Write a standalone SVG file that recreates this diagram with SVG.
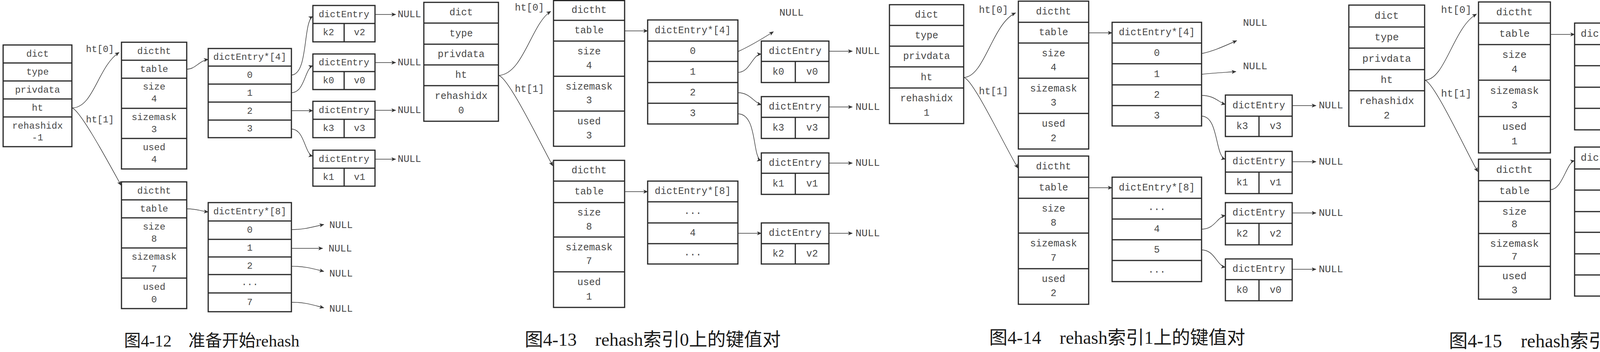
<svg xmlns="http://www.w3.org/2000/svg" width="7264" height="900" viewBox="0 0 7264 900">
<style>
.b{fill:#fff;stroke:#262626;stroke-width:3}
.l{fill:none;stroke:#262626;stroke-width:3}
.nd text{font-family:"Liberation Mono",monospace;text-anchor:middle;dominant-baseline:central;fill:#484848}
.cn path{fill:none;stroke:#333;stroke-width:1.4;marker-end:url(#a)}
.lb{font-family:"Liberation Mono",monospace;dominant-baseline:central;fill:#484848}
.nu{font-family:"Liberation Mono",monospace;dominant-baseline:central;fill:#484848}
.cap{font-family:"Liberation Serif","Noto Sans CJK SC",serif;text-anchor:middle;dominant-baseline:central;fill:#1a1a1a}
</style>
<defs>
<marker id="a" viewBox="0 0 12 10" markerWidth="12" markerHeight="10" refX="11" refY="5" orient="auto" markerUnits="userSpaceOnUse"><path d="M0,0L12,5L0,10L3,5Z" fill="#333"/></marker>
</defs>
<rect width="7264" height="900" fill="#fff"/>

<!-- FIGURE 4-12 -->
<g id="fig1" font-size="24">
<g id="f1-dict" class="nd"><rect class="b" x="8" y="115" width="176" height="260"/><path class="l" d="M8,161H184M8,207H184M8,253H184M8,299H184"/>
<text x="96" y="138">dict</text><text x="96" y="184">type</text><text x="96" y="230">privdata</text><text x="96" y="276">ht</text><text x="96" y="322">rehashidx</text><text x="96" y="352">-1</text></g>
<g id="f1-ht0" class="nd"><rect class="b" x="311" y="108" width="167" height="324"/><path class="l" d="M311,154H478M311,200H478M311,277H478M311,354H478"/>
<text x="394.5" y="131">dictht</text><text x="394.5" y="177">table</text><text x="394.5" y="222">size</text><text x="394.5" y="253">4</text><text x="394.5" y="300">sizemask</text><text x="394.5" y="331">3</text><text x="394.5" y="377">used</text><text x="394.5" y="408">4</text></g>
<g id="f1-ht1" class="nd"><rect class="b" x="311" y="465" width="167" height="324"/><path class="l" d="M311,511H478M311,557H478M311,634H478M311,711H478"/>
<text x="394.5" y="488">dictht</text><text x="394.5" y="534">table</text><text x="394.5" y="580">size</text><text x="394.5" y="611">8</text><text x="394.5" y="657">sizemask</text><text x="394.5" y="688">7</text><text x="394.5" y="734">used</text><text x="394.5" y="766">0</text></g>
<g id="f1-tab0" class="nd"><rect class="b" x="533" y="124" width="213" height="228"/><path class="l" d="M533,169H746M533,215H746M533,261H746M533,307H746"/>
<text x="639.5" y="146.5">dictEntry*[4]</text><text x="639.5" y="192">0</text><text x="639.5" y="238">1</text><text x="639.5" y="284">2</text><text x="639.5" y="329.5">3</text></g>
<g id="f1-tab1" class="nd"><rect class="b" x="533" y="518" width="213" height="279"/><path class="l" d="M533,565H746M533,612H746M533,657H746M533,702H746M533,749H746"/>
<text x="639.5" y="541.5">dictEntry*[8]</text><text x="639.5" y="588.5">0</text><text x="639.5" y="634.5">1</text><text x="639.5" y="680">2</text><text x="639.5" y="722">...</text><text x="639.5" y="773">7</text></g>
<g id="f1-e-k2" class="nd"><rect class="b" x="801" y="14" width="159" height="93"/><path class="l" d="M801,60H960M881,60V107"/><text x="880.5" y="37">dictEntry</text><text x="841" y="83.5">k2</text><text x="920.5" y="83.5">v2</text></g>
<g id="f1-e-k0" class="nd"><rect class="b" x="801" y="138" width="159" height="91"/><path class="l" d="M801,183H960M881,183V229"/><text x="880.5" y="160.5">dictEntry</text><text x="841" y="206">k0</text><text x="920.5" y="206">v0</text></g>
<g id="f1-e-k3" class="nd"><rect class="b" x="801" y="259" width="159" height="93"/><path class="l" d="M801,305H960M881,305V352"/><text x="880.5" y="282">dictEntry</text><text x="841" y="328.5">k3</text><text x="920.5" y="328.5">v3</text></g>
<g id="f1-e-k1" class="nd"><rect class="b" x="801" y="384" width="159" height="92"/><path class="l" d="M801,430H960M881,430V476"/><text x="880.5" y="407">dictEntry</text><text x="841" y="453">k1</text><text x="920.5" y="453">v1</text></g>
<g id="f1-connectors" class="cn">
<path d="M184,276C240,276 250,170 305,134"/><path d="M184,276C205,280 280,420 310,474"/>
<path d="M478,177C500,177 510,155 533,152"/><path d="M478,534C500,533 515,540 533,542"/>
<path d="M746,192C790,190 775,55 801,42"/><path d="M746,237C780,237 780,175 801,168"/><path d="M746,283L801,283"/><path d="M746,330C780,330 780,395 801,399"/>
<path d="M960,37L1013,37"/><path d="M960,160L1013,160"/><path d="M960,282L1013,282"/><path d="M960,407L1013,407"/>
<path d="M746,587C780,587 800,580 829,574"/><path d="M746,635L826,635"/><path d="M746,681C780,680 805,688 829,694"/><path d="M746,773C780,772 805,781 829,787"/>
<text class="lb" x="220" y="126">ht[0]</text><text class="lb" x="220" y="306">ht[1]</text>
<g class="nu" font-size="25"><text x="1018" y="37">NULL</text><text x="1018" y="160">NULL</text><text x="1018" y="282">NULL</text><text x="1018" y="407">NULL</text><text x="843" y="576">NULL</text><text x="841" y="636">NULL</text><text x="843" y="700">NULL</text><text x="843" y="790">NULL</text></g>
</g>
<text class="cap" x="542" y="871" font-size="43">图4-12　准备开始rehash</text>
</g>

<!-- FIGURE 4-13 -->
<g id="fig2" font-size="25">
<g id="f2-dict" class="nd"><rect class="b" x="1085" y="6" width="191" height="304"/><path class="l" d="M1085,59H1276M1085,113H1276M1085,166H1276M1085,219H1276"/>
<text x="1180.5" y="32.5">dict</text><text x="1180.5" y="86">type</text><text x="1180.5" y="139.5">privdata</text><text x="1180.5" y="192.5">ht</text><text x="1180.5" y="246">rehashidx</text><text x="1180.5" y="283">0</text></g>
<g id="f2-ht0" class="nd"><rect class="b" x="1417" y="1.5" width="182" height="372.5"/><path class="l" d="M1417,52H1599M1417,105H1599M1417,195H1599M1417,284H1599"/>
<text x="1508" y="26.5">dictht</text><text x="1508" y="78.5">table</text><text x="1508" y="132">size</text><text x="1508" y="168">4</text><text x="1508" y="222">sizemask</text><text x="1508" y="257">3</text><text x="1508" y="311">used</text><text x="1508" y="347">3</text></g>
<g id="f2-ht1" class="nd"><rect class="b" x="1417" y="410" width="182" height="376"/><path class="l" d="M1417,463H1599M1417,518H1599M1417,606H1599M1417,695H1599"/>
<text x="1508" y="436.5">dictht</text><text x="1508" y="490.5">table</text><text x="1508" y="544">size</text><text x="1508" y="580">8</text><text x="1508" y="633">sizemask</text><text x="1508" y="668">7</text><text x="1508" y="722">used</text><text x="1508" y="759">1</text></g>
<g id="f2-tab0" class="nd"><rect class="b" x="1658" y="51" width="231" height="266"/><path class="l" d="M1658,105H1889M1658,157H1889M1658,211H1889M1658,264H1889"/>
<text x="1773.5" y="78">dictEntry*[4]</text><text x="1773.5" y="131">0</text><text x="1773.5" y="184">1</text><text x="1773.5" y="237.5">2</text><text x="1773.5" y="290.5">3</text></g>
<g id="f2-tab1" class="nd"><rect class="b" x="1658" y="463" width="231" height="212"/><path class="l" d="M1658,516H1889M1658,570H1889M1658,623H1889"/>
<text x="1773.5" y="489.5">dictEntry*[8]</text><text x="1773.5" y="540">...</text><text x="1773.5" y="596.5">4</text><text x="1773.5" y="646">...</text></g>
<g id="f2-e-k0" class="nd"><rect class="b" x="1949" y="105" width="173" height="106"/><path class="l" d="M1949,157H2122M2036,157V211"/><text x="2035.5" y="131">dictEntry</text><text x="1992.5" y="184">k0</text><text x="2079" y="184">v0</text></g>
<g id="f2-e-k3" class="nd"><rect class="b" x="1949" y="247" width="173" height="107"/><path class="l" d="M1949,300H2122M2036,300V354"/><text x="2035.5" y="273.5">dictEntry</text><text x="1992.5" y="327">k3</text><text x="2079" y="327">v3</text></g>
<g id="f2-e-k1" class="nd"><rect class="b" x="1949" y="391" width="173" height="106"/><path class="l" d="M1949,443H2122M2036,443V497"/><text x="2035.5" y="417">dictEntry</text><text x="1992.5" y="470">k1</text><text x="2079" y="470">v1</text></g>
<g id="f2-e-k2" class="nd"><rect class="b" x="1949" y="570" width="173" height="105"/><path class="l" d="M1949,623H2122M2036,623V675"/><text x="2035.5" y="596.5">dictEntry</text><text x="1992.5" y="649">k2</text><text x="2079" y="649">v2</text></g>
<g id="f2-connectors" class="cn">
<path d="M1276,193C1340,190 1360,60 1410,29"/><path d="M1276,193C1300,195 1380,360 1415,424"/>
<path d="M1599,79L1658,79"/><path d="M1599,490L1658,490"/>
<path d="M1889,132C1920,118 1950,100 1980,81"/><path d="M1889,185C1920,185 1925,140 1949,138"/><path d="M1889,237C1920,237 1930,262 1949,268"/><path d="M1889,291C1940,291 1925,405 1949,410"/><path d="M1889,596.5L1949,596.5"/>
<path d="M2122,131L2182,131"/><path d="M2122,273.5L2182,273.5"/><path d="M2122,417L2182,417"/><path d="M2122,596.5L2182,596.5"/>
<text class="lb" x="1318" y="20">ht[0]</text><text class="lb" x="1318" y="228">ht[1]</text>
<g class="nu" font-size="26"><text x="1995" y="33">NULL</text><text x="2190" y="131">NULL</text><text x="2190" y="273.5">NULL</text><text x="2190" y="417">NULL</text><text x="2190" y="596.5">NULL</text></g>
</g>
<text class="cap" x="1671" y="868" font-size="47">图4-13　rehash索引0上的键值对</text>
</g>

<!-- FIGURE 4-14 -->
<g id="fig3" font-size="25">
<g id="f3-dict" class="nd"><rect class="b" x="2277" y="12" width="190" height="304"/><path class="l" d="M2277,65H2467M2277,118H2467M2277,171H2467M2277,225H2467"/>
<text x="2372" y="38.5">dict</text><text x="2372" y="91.5">type</text><text x="2372" y="144.5">privdata</text><text x="2372" y="198">ht</text><text x="2372" y="252">rehashidx</text><text x="2372" y="289">1</text></g>
<g id="f3-ht0" class="nd"><rect class="b" x="2607" y="3" width="180" height="378"/><path class="l" d="M2607,57H2787M2607,110H2787M2607,200H2787M2607,290H2787"/>
<text x="2697" y="30">dictht</text><text x="2697" y="83.5">table</text><text x="2697" y="137">size</text><text x="2697" y="173">4</text><text x="2697" y="227">sizemask</text><text x="2697" y="263">3</text><text x="2697" y="317">used</text><text x="2697" y="354">2</text></g>
<g id="f3-ht1" class="nd"><rect class="b" x="2607" y="399" width="180" height="379"/><path class="l" d="M2607,453H2787M2607,507H2787M2607,596H2787M2607,687H2787"/>
<text x="2697" y="426">dictht</text><text x="2697" y="480">table</text><text x="2697" y="534">size</text><text x="2697" y="570">8</text><text x="2697" y="623">sizemask</text><text x="2697" y="660">7</text><text x="2697" y="714">used</text><text x="2697" y="750">2</text></g>
<g id="f3-tab0" class="nd"><rect class="b" x="2847" y="57" width="229" height="265"/><path class="l" d="M2847,110H3076M2847,163H3076M2847,217H3076M2847,270H3076"/>
<text x="2961.5" y="83.5">dictEntry*[4]</text><text x="2961.5" y="136.5">0</text><text x="2961.5" y="190">1</text><text x="2961.5" y="243.5">2</text><text x="2961.5" y="296">3</text></g>
<g id="f3-tab1" class="nd"><rect class="b" x="2847" y="453" width="229" height="267"/><path class="l" d="M2847,507H3076M2847,560H3076M2847,613H3076M2847,666H3076"/>
<text x="2961.5" y="480">dictEntry*[8]</text><text x="2961.5" y="530">...</text><text x="2961.5" y="586.5">4</text><text x="2961.5" y="639.5">5</text><text x="2961.5" y="690">...</text></g>
<g id="f3-e-k3" class="nd"><rect class="b" x="3137" y="243" width="171" height="106"/><path class="l" d="M3137,297H3308M3223,297V349"/><text x="3222.5" y="270">dictEntry</text><text x="3180" y="323">k3</text><text x="3265.5" y="323">v3</text></g>
<g id="f3-e-k1" class="nd"><rect class="b" x="3137" y="387" width="171" height="108"/><path class="l" d="M3137,440H3308M3223,440V495"/><text x="3222.5" y="413.5">dictEntry</text><text x="3180" y="467.5">k1</text><text x="3265.5" y="467.5">v1</text></g>
<g id="f3-e-k2" class="nd"><rect class="b" x="3137" y="518" width="171" height="108"/><path class="l" d="M3137,571H3308M3223,571V626"/><text x="3222.5" y="544.5">dictEntry</text><text x="3180" y="598.5">k2</text><text x="3265.5" y="598.5">v2</text></g>
<g id="f3-e-k0" class="nd"><rect class="b" x="3137" y="662" width="171" height="107"/><path class="l" d="M3137,715H3308M3223,715V769"/><text x="3222.5" y="688.5">dictEntry</text><text x="3180" y="742">k0</text><text x="3265.5" y="742">v0</text></g>
<g id="f3-connectors" class="cn">
<path d="M2467,198C2520,198 2540,60 2600,33"/><path d="M2467,198C2490,200 2570,370 2606,430"/>
<path d="M2787,84L2847,84"/><path d="M2787,480L2847,480"/>
<path d="M3076,137C3110,130 3140,115 3166,104"/><path d="M3076,190C3110,186 3140,185 3164,183"/>
<path d="M3076,244C3110,244 3120,262 3137,267"/><path d="M3076,297C3120,297 3110,400 3137,407"/><path d="M3076,586C3110,586 3115,555 3137,551"/><path d="M3076,639C3110,639 3115,680 3137,683"/>
<path d="M3308,270L3369,270"/><path d="M3308,413.5L3369,413.5"/><path d="M3308,544.5L3369,544.5"/><path d="M3308,688.5L3369,688.5"/>
<text class="lb" x="2506" y="26">ht[0]</text><text class="lb" x="2506" y="234">ht[1]</text>
<g class="nu" font-size="26"><text x="3182" y="59">NULL</text><text x="3182" y="170">NULL</text><text x="3376" y="270">NULL</text><text x="3376" y="413.5">NULL</text><text x="3376" y="544.5">NULL</text><text x="3376" y="688.5">NULL</text></g>
</g>
<text class="cap" x="2860" y="863" font-size="47">图4-14　rehash索引1上的键值对</text>
</g>

<!-- FIGURE 4-15 -->
<g id="fig4" font-size="26">
<g id="f4-dict" class="nd"><rect class="b" x="3453" y="13" width="194" height="310"/><path class="l" d="M3453,69H3647M3453,123H3647M3453,178H3647M3453,232H3647"/>
<text x="3550" y="41">dict</text><text x="3550" y="96">type</text><text x="3550" y="150.5">privdata</text><text x="3550" y="205">ht</text><text x="3550" y="259">rehashidx</text><text x="3550" y="296">2</text></g>
<g id="f4-ht0" class="nd"><rect class="b" x="3785" y="5" width="184" height="386"/><path class="l" d="M3785,59H3969M3785,114H3969M3785,205H3969M3785,298H3969"/>
<text x="3877" y="32">dictht</text><text x="3877" y="86.5">table</text><text x="3877" y="141">size</text><text x="3877" y="178">4</text><text x="3877" y="233">sizemask</text><text x="3877" y="270">3</text><text x="3877" y="325">used</text><text x="3877" y="362">1</text></g>
<g id="f4-ht1" class="nd"><rect class="b" x="3785" y="407" width="184" height="358"/><path class="l" d="M3785,462H3969M3785,515H3969M3785,597H3969M3785,681H3969"/>
<text x="3877" y="434.5">dictht</text><text x="3877" y="488.5">table</text><text x="3877" y="542">size</text><text x="3877" y="574">8</text><text x="3877" y="624">sizemask</text><text x="3877" y="657">7</text><text x="3877" y="707">used</text><text x="3877" y="743">3</text></g>
<g id="f4-tab0" class="nd"><rect class="b" x="4031" y="59" width="234" height="273"/><path class="l" d="M4031,114H4265M4031,168H4265M4031,223H4265M4031,277H4265"/>
<text x="4148" y="86.5">dictEntry*[4]</text><text x="4148" y="141">0</text><text x="4148" y="195.5">1</text><text x="4148" y="250">2</text><text x="4148" y="304.5">3</text></g>
<g id="f4-tab1" class="nd"><rect class="b" x="4031" y="376" width="234" height="381"/><path class="l" d="M4031,432H4265M4031,486H4265M4031,541H4265M4031,594H4265M4031,649H4265M4031,703H4265"/>
<text x="4148" y="404">dictEntry*[8]</text><text x="4148" y="456">...</text><text x="4148" y="513.5">1</text><text x="4148" y="564">...</text><text x="4148" y="621.5">4</text><text x="4148" y="676">5</text><text x="4148" y="727">...</text></g>
<g id="f4-e-k1" class="nd"><rect class="b" x="4328" y="298" width="176" height="109"/><path class="l" d="M4328,353H4504M4416,353V407"/><text x="4416" y="325.5">dictEntry</text><text x="4372" y="380">k1</text><text x="4460" y="380">v1</text></g>
<g id="f4-e-k3" class="nd"><rect class="b" x="4328" y="423" width="176" height="108"/><path class="l" d="M4328,477H4504M4416,477V531"/><text x="4416" y="450">dictEntry</text><text x="4372" y="504">k3</text><text x="4460" y="504">v3</text></g>
<g id="f4-e-k2" class="nd"><rect class="b" x="4328" y="547" width="176" height="110"/><path class="l" d="M4328,603H4504M4416,603V657"/><text x="4416" y="575">dictEntry</text><text x="4372" y="630">k2</text><text x="4460" y="630">v2</text></g>
<g id="f4-e-k0" class="nd"><rect class="b" x="4328" y="676" width="176" height="109"/><path class="l" d="M4328,732H4504M4416,732V785"/><text x="4416" y="704">dictEntry</text><text x="4372" y="758.5">k0</text><text x="4460" y="758.5">v0</text></g>
<g id="f4-connectors" class="cn">
<path d="M3647,205C3700,205 3720,70 3780,36"/><path d="M3647,205C3670,207 3750,380 3783,439"/>
<path d="M3969,88L4031,88"/><path d="M3969,485C4000,485 4010,415 4031,411"/>
<path d="M4265,141C4300,135 4330,120 4360,104"/><path d="M4265,195C4300,192 4330,190 4355,188"/><path d="M4265,250C4300,250 4330,255 4355,259"/>
<path d="M4265,300C4300,300 4310,320 4328,326"/><path d="M4265,506C4300,506 4305,455 4328,451"/><path d="M4265,628C4300,628 4305,580 4328,575"/><path d="M4265,684C4300,684 4310,705 4328,711"/>
<path d="M4504,325.5L4564,325.5"/><path d="M4504,450L4564,450"/><path d="M4504,575L4564,575"/><path d="M4504,704L4564,704"/>
<text class="lb" x="3689" y="26">ht[0]</text><text class="lb" x="3689" y="240">ht[1]</text>
<g class="nu" font-size="26"><text x="4375" y="108">NULL</text><text x="4375" y="189">NULL</text><text x="4375" y="264">NULL</text><text x="4571" y="325.5">NULL</text><text x="4571" y="450">NULL</text><text x="4571" y="575">NULL</text><text x="4571" y="704">NULL</text></g>
</g>
<text class="cap" x="4044" y="871" font-size="48">图4-15　rehash索引2上的键值对</text>
</g>

<!-- FIGURE 4-16 -->
<g id="fig5" font-size="24">
<g id="f5-dict" class="nd"><rect class="b" x="4648" y="13" width="185" height="289"/><path class="l" d="M4648,63H4833M4648,114H4833M4648,164H4833M4648,215H4833"/>
<text x="4740.5" y="38">dict</text><text x="4740.5" y="88.5">type</text><text x="4740.5" y="139">privdata</text><text x="4740.5" y="189.5">ht</text><text x="4740.5" y="241">rehashidx</text><text x="4740.5" y="276">3</text></g>
<g id="f5-ht0" class="nd"><rect class="b" x="4962" y="5" width="176" height="360"/><path class="l" d="M4962,56H5138M4962,107H5138M4962,193H5138M4962,279H5138"/>
<text x="5050" y="30.5">dictht</text><text x="5050" y="81.5">table</text><text x="5050" y="132">size</text><text x="5050" y="167">4</text><text x="5050" y="218">sizemask</text><text x="5050" y="253">3</text><text x="5050" y="304">used</text><text x="5050" y="339">0</text></g>
<g id="f5-ht1" class="nd"><rect class="b" x="4962" y="374" width="176" height="361"/><path class="l" d="M4962,425H5138M4962,476H5138M4962,561H5138M4962,647H5138"/>
<text x="5050" y="399.5">dictht</text><text x="5050" y="450.5">table</text><text x="5050" y="502">size</text><text x="5050" y="536">8</text><text x="5050" y="587">sizemask</text><text x="5050" y="622">7</text><text x="5050" y="673">used</text><text x="5050" y="708">4</text></g>
<g id="f5-tab0" class="nd"><rect class="b" x="5195" y="55" width="225" height="255"/><path class="l" d="M5195,107H5420M5195,157H5420M5195,208H5420M5195,259H5420"/>
<text x="5307.5" y="81">dictEntry*[4]</text><text x="5307.5" y="132">0</text><text x="5307.5" y="182.5">1</text><text x="5307.5" y="233.5">2</text><text x="5307.5" y="284.5">3</text></g>
<g id="f5-tab1" class="nd"><rect class="b" x="5195" y="320" width="225" height="406"/><path class="l" d="M5195,372H5420M5195,422H5420M5195,473H5420M5195,523H5420M5195,574H5420M5195,624H5420M5195,675H5420"/>
<text x="5307.5" y="346">dictEntry*[8]</text><text x="5307.5" y="394">...</text><text x="5307.5" y="447.5">1</text><text x="5307.5" y="495">...</text><text x="5307.5" y="548.5">4</text><text x="5307.5" y="599">5</text><text x="5307.5" y="646">...</text><text x="5307.5" y="700.5">7</text></g>
<g id="f5-e-k3" class="nd"><rect class="b" x="5478" y="345" width="168" height="102"/><path class="l" d="M5478,396H5646M5562,396V447"/><text x="5562" y="370.5">dictEntry</text><text x="5520" y="421.5">k3</text><text x="5604" y="421.5">v3</text></g>
<g id="f5-e-k2" class="nd"><rect class="b" x="5478" y="457" width="168" height="102"/><path class="l" d="M5478,508H5646M5562,508V559"/><text x="5562" y="482.5">dictEntry</text><text x="5520" y="533.5">k2</text><text x="5604" y="533.5">v2</text></g>
<g id="f5-e-k0" class="nd"><rect class="b" x="5478" y="568" width="168" height="103"/><path class="l" d="M5478,620H5646M5562,620V671"/><text x="5562" y="594">dictEntry</text><text x="5520" y="645.5">k0</text><text x="5604" y="645.5">v0</text></g>
<g id="f5-e-k1" class="nd"><rect class="b" x="5478" y="681" width="168" height="103"/><path class="l" d="M5478,733H5646M5562,733V784"/><text x="5562" y="707">dictEntry</text><text x="5520" y="758.5">k1</text><text x="5604" y="758.5">v1</text></g>
<g id="f5-connectors" class="cn">
<path d="M4833,190C4890,190 4900,60 4960,35"/><path d="M4833,190C4855,192 4930,340 4960,403"/>
<path d="M5138,81L5195,81"/><path d="M5138,456C5170,456 5175,350 5195,346"/>
<path d="M5420,132C5450,128 5480,110 5509,97"/><path d="M5420,183C5450,181 5480,178 5506,176"/><path d="M5420,234C5450,234 5480,238 5506,242"/><path d="M5420,284C5460,284 5490,305 5509,318"/>
<path d="M5420,444C5455,444 5455,375 5478,369"/><path d="M5420,545C5455,545 5455,490 5478,485"/><path d="M5420,597C5445,597 5460,591 5478,591"/><path d="M5420,705C5445,705 5460,701 5478,701"/>
<path d="M5646,370.5L5703,370.5"/><path d="M5646,482.5L5703,482.5"/><path d="M5646,594L5703,594"/><path d="M5646,707L5703,707"/>
<text class="lb" x="4872" y="24">ht[0]</text><text class="lb" x="4872" y="224">ht[1]</text>
<g class="nu" font-size="25"><text x="5518" y="101">NULL</text><text x="5518" y="176">NULL</text><text x="5518" y="249">NULL</text><text x="5518" y="319">NULL</text><text x="5715" y="370.5">NULL</text><text x="5715" y="482.5">NULL</text><text x="5715" y="594">NULL</text><text x="5715" y="707">NULL</text></g>
</g>
<text class="cap" x="5213" y="866" font-size="46">图4-16　rehash索引3上的键值对</text>
</g>

<!-- FIGURE 4-17 -->
<g id="fig6" font-size="30">
<g id="f6-dict" class="nd"><rect class="b" x="5788" y="16" width="235" height="409"/><path class="l" d="M5788,89H6023M5788,160H6023M5788,233H6023M5788,304H6023"/>
<text x="5905.5" y="52.5">dict</text><text x="5905.5" y="124.5">type</text><text x="5905.5" y="196.5">privdata</text><text x="5905.5" y="268.5">ht</text><text x="5905.5" y="340">rehashidx</text><text x="5905.5" y="390">-1</text></g>
<g id="f6-ht0" class="nd"><rect class="b" x="6190" y="12" width="224" height="352"/><path class="l" d="M6190,63H6414M6190,118H6414M6190,195H6414M6190,276H6414"/>
<text x="6302" y="37.5">dictht</text><text x="6302" y="90.5">table</text><text x="6302" y="142">size</text><text x="6302" y="176">8</text><text x="6302" y="221">sizemask</text><text x="6302" y="255">7</text><text x="6302" y="303">used</text><text x="6302" y="340">4</text></g>
<g id="f6-ht1" class="nd"><rect class="b" x="6190" y="372" width="224" height="381"/><path class="l" d="M6190,432H6414M6190,489H6414M6190,575H6414M6190,664H6414"/>
<text x="6302" y="402">dictht</text><text x="6302" y="460.5">table</text><text x="6302" y="516">size</text><text x="6302" y="553">0</text><text x="6302" y="603">sizemask</text><text x="6302" y="642">0</text><text x="6302" y="692">used</text><text x="6302" y="730">0</text></g>
<g id="f6-tab0" class="nd"><rect class="b" x="6527" y="26" width="288" height="568"/><path class="l" d="M6527,97H6815M6527,168H6815M6527,240H6815M6527,311H6815M6527,382H6815M6527,453H6815M6527,523H6815"/>
<text x="6671" y="61.5">dictEntry*[8]</text><text x="6671" y="128">...</text><text x="6671" y="204">1</text><text x="6671" y="271">...</text><text x="6671" y="346.5">4</text><text x="6671" y="417.5">5</text><text x="6671" y="484">...</text><text x="6671" y="558.5">7</text></g>
<g id="f6-e-k3" class="nd"><rect class="b" x="6889" y="72" width="213" height="146"/><path class="l" d="M6889,143H7102M6995,143V218"/><text x="6995.5" y="107.5">dictEntry</text><text x="6942" y="180.5">k3</text><text x="7048.5" y="180.5">v3</text></g>
<g id="f6-e-k2" class="nd"><rect class="b" x="6889" y="257" width="213" height="142"/><path class="l" d="M6889,329H7102M6995,329V399"/><text x="6995.5" y="293">dictEntry</text><text x="6942" y="364">k2</text><text x="7048.5" y="364">v2</text></g>
<g id="f6-e-k0" class="nd"><rect class="b" x="6889" y="436" width="213" height="142"/><path class="l" d="M6889,508H7102M6995,508V578"/><text x="6995.5" y="472">dictEntry</text><text x="6942" y="543">k0</text><text x="7048.5" y="543">v0</text></g>
<g id="f6-e-k1" class="nd"><rect class="b" x="6889" y="610" width="213" height="145"/><path class="l" d="M6889,683H7102M6995,683V755"/><text x="6995.5" y="646.5">dictEntry</text><text x="6942" y="719">k1</text><text x="7048.5" y="719">v1</text></g>
<g id="f6-connectors" class="cn">
<path d="M6023,268C6080,268 6110,70 6187,43"/><path d="M6023,268C6050,270 6150,380 6187,415"/>
<path d="M6414,94C6460,94 6490,70 6527,65"/><path d="M6414,477C6450,477 6460,560 6473,590"/>
<path d="M6815,205C6850,205 6860,125 6889,118"/><path d="M6815,346C6850,346 6860,310 6889,306"/><path d="M6815,418C6855,418 6860,478 6889,483"/><path d="M6815,559C6855,559 6860,636 6889,645"/>
<path d="M7102,107.5L7176,107.5"/><path d="M7102,293L7176,293"/><path d="M7102,472L7176,472"/><path d="M7102,646.5L7176,646.5"/>
<text class="lb" x="6073" y="42">ht[0]</text><text class="lb" x="6092" y="305">ht[1]</text>
<g class="nu" font-size="31"><text x="6445" y="617">NULL</text><text x="7182" y="107.5">NULL</text><text x="7182" y="293">NULL</text><text x="7182" y="472">NULL</text><text x="7182" y="646.5">NULL</text></g>
</g>
<text class="cap" x="6522" y="866" font-size="56">图4-17　rehash执行完毕</text>
</g>
</svg>
